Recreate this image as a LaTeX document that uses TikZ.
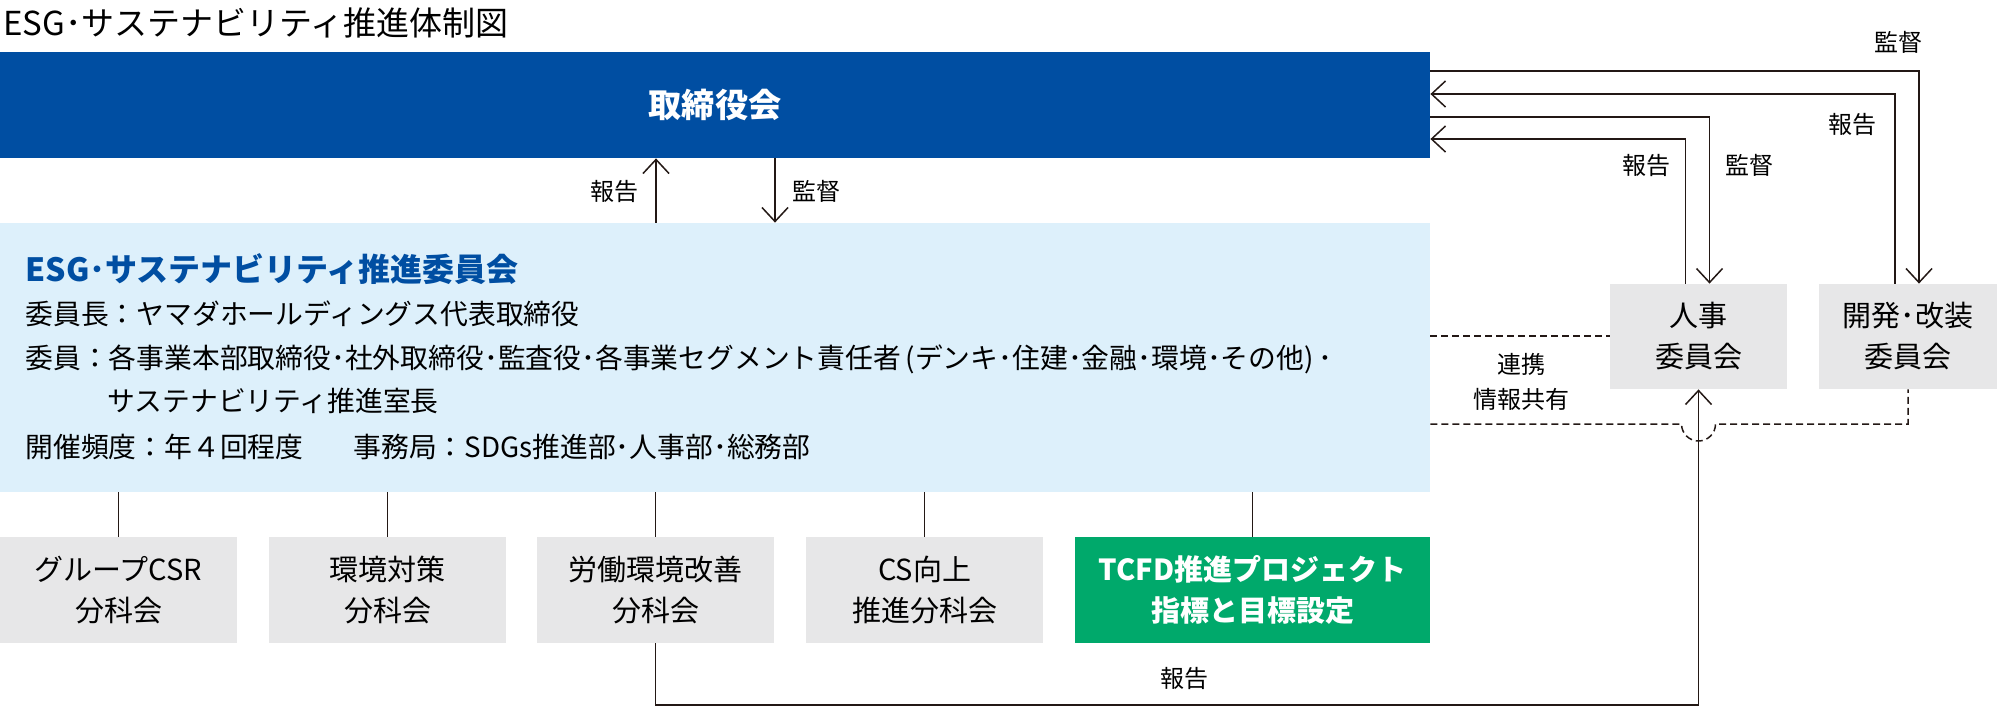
\documentclass[tikz,border=0pt]{standalone}
\usepackage{fontspec}
\setmainfont{Noto Sans CJK JP}
\usetikzlibrary{arrows.meta,positioning,fit,calc}
\definecolor{YDblue}{HTML}{004EA2}
\definecolor{YDsky}{HTML}{DDF0FB}
\definecolor{YDgray}{HTML}{E7E7E8}
\definecolor{YDgreen}{HTML}{00A96B}
\definecolor{YDline}{HTML}{231815}

\tikzset{
  box/.style={inner sep=0pt},
  subbox/.style={box, fill=YDgray},
  boxtxt/.style={inner sep=0pt, align=center, font=\fontsize{14.5}{20.5}\selectfont},
  txt/.style={anchor=west, inner sep=0pt, font=\fontsize{13.9}{16}\selectfont},
  lbl/.style={inner sep=0pt, align=center, font=\fontsize{12}{17.5}\selectfont},
  link/.style={draw=YDline, line width=0.75pt},
  arr/.style={link, -{Straight Barb[length=7pt,width=13pt]}},
  dotline/.style={link, dash pattern=on 3.5pt off 2pt},
}

\begin{document}
\begin{tikzpicture}[x=0.5pt, y=-0.5pt]
  \useasboundingbox (0,0) rectangle (1997,709);

  % title
  \node[anchor=west, inner sep=0pt, font=\fontsize{16.5}{18}\selectfont] (title) at (3,23)
    {ESG･サステナビリティ推進体制図};

  % board of directors
  \node[box, fill=YDblue, fit={(0,52)(1430,158)}] (board) {};
  \node[boxtxt, text=white, font=\fontsize{16.6}{18}\selectfont\bfseries] (boardtxt)
    at ($(board.north)!0.5!(board.south)$) {取締役会};

  % ESG committee
  \node[box, fill=YDsky, fit={(0,223)(1430,492)}] (esg) {};
  \node[txt, text=YDblue, font=\fontsize{16}{18}\selectfont\bfseries] (esgname) at (25,269)
    {ESG･サステナビリティ推進委員会};
  \node[txt] (chair) at (25,314) {委員長：ヤマダホールディングス代表取締役};
  \node[txt] (member) at (25,359)
    {委員：各事業本部取締役･社外取締役･監査役･各事業セグメント責任者\,(デンキ･住建･金融･環境･その他)\,･};
  \node[txt] (member2) at (107,401) {サステナビリティ推進室長};
  \node[txt] (meeting) at (25,447)
    {開催頻度：年４回程度\hspace{1.8em}事務局：SDGs推進部･人事部･総務部};

  % sub-committees
  \node[subbox, fit={(0,537)(237,643)}] (csr) {};
  \node[subbox, fit={(269,537)(506,643)}] (env) {};
  \node[subbox, fit={(537,537)(774,643)}] (labor) {};
  \node[subbox, fit={(806,537)(1043,643)}] (cs) {};
  \node[box, fill=YDgreen, fit={(1075,537)(1430,643)}] (tcfd) {};
  \node[boxtxt] (csrtxt) at ($(csr.north)!0.5!(csr.south)$) {グループCSR\\分科会};
  \node[boxtxt] (envtxt) at ($(env.north)!0.5!(env.south)$) {環境対策\\分科会};
  \node[boxtxt] (labortxt) at ($(labor.north)!0.5!(labor.south)$) {労働環境改善\\分科会};
  \node[boxtxt] (cstxt) at ($(cs.north)!0.5!(cs.south)$) {CS向上\\推進分科会};
  \node[boxtxt, text=white, font=\fontsize{14.5}{20.5}\selectfont\bfseries] (tcfdtxt)
    at ($(tcfd.north)!0.5!(tcfd.south)$) {TCFD推進プロジェクト\\指標と目標設定};
  \foreach \n in {csr,env,labor,cs,tcfd}
    \draw[link] (esg.south -| \n.north) -- (\n.north);

  % committees on the right
  \node[subbox, fit={(1610,284)(1787,389)}] (jinji) {};
  \node[subbox, fit={(1819,284)(1997,389)}] (kaihatsu) {};
  \node[boxtxt] (jinjitxt) at ($(jinji.north)!0.5!(jinji.south)$) {人事\\委員会};
  \node[boxtxt] (kaihatsutxt) at ($(kaihatsu.north)!0.5!(kaihatsu.south)$) {開発･改装\\委員会};

  % board <-> ESG committee
  \coordinate (repx) at (656,0);
  \coordinate (supx) at (775,0);
  \draw[arr] (esg.north -| repx) -- (board.south -| repx);
  \draw[arr] (board.south -| supx) -- (esg.north -| supx);
  \node[lbl] (reptxt) at (614,191) {報告};
  \node[lbl] (suptxt) at (816,191) {監督};

  % board <-> right committees
  \coordinate (lv1) at (0,71);
  \coordinate (lv2) at (0,94);
  \coordinate (lv3) at (0,117);
  \coordinate (lv4) at (0,139);
  \draw[arr] (board.east |- lv1) -| ([xshift=5.5pt]kaihatsu.north);
  \draw[arr] ([xshift=-6.5pt]kaihatsu.north) |- (board.east |- lv2);
  \draw[arr] (board.east |- lv3) -| ([xshift=5.5pt]jinji.north);
  \draw[arr] ([xshift=-6.5pt]jinji.north) |- (board.east |- lv4);
  \node[lbl] (suptxt2) at (1898,42) {監督};
  \node[lbl] (reptxt2) at (1852,124) {報告};
  \node[lbl] (reptxt3) at (1646,165) {報告};
  \node[lbl] (suptxt3) at (1749,165) {監督};

  % cooperation / information sharing
  \coordinate (lv5) at (0,336);
  \coordinate (lv6) at (0,424);
  \coordinate (hop) at (jinji.south |- lv6);
  \draw[dotline] (esg.east |- lv5) -- (jinji.west |- lv5);
  \draw[dotline] (esg.east |- lv6) -- ([xshift=-8.5pt]hop)
    arc[start angle=180, end angle=360, radius=8.5pt]
    -- (kaihatsu.south |- lv6) -- (kaihatsu.south);
  \node[lbl] (coop) at (1521,382) {連携\\情報共有};

  % report from labour sub-committee
  \coordinate (lv7) at (0,705);
  \draw[arr] (labor.south) -- (labor.south |- lv7) -| (jinji.south);
  \node[lbl] (reptxt4) at (1184,678) {報告};
\end{tikzpicture}
\end{document}
